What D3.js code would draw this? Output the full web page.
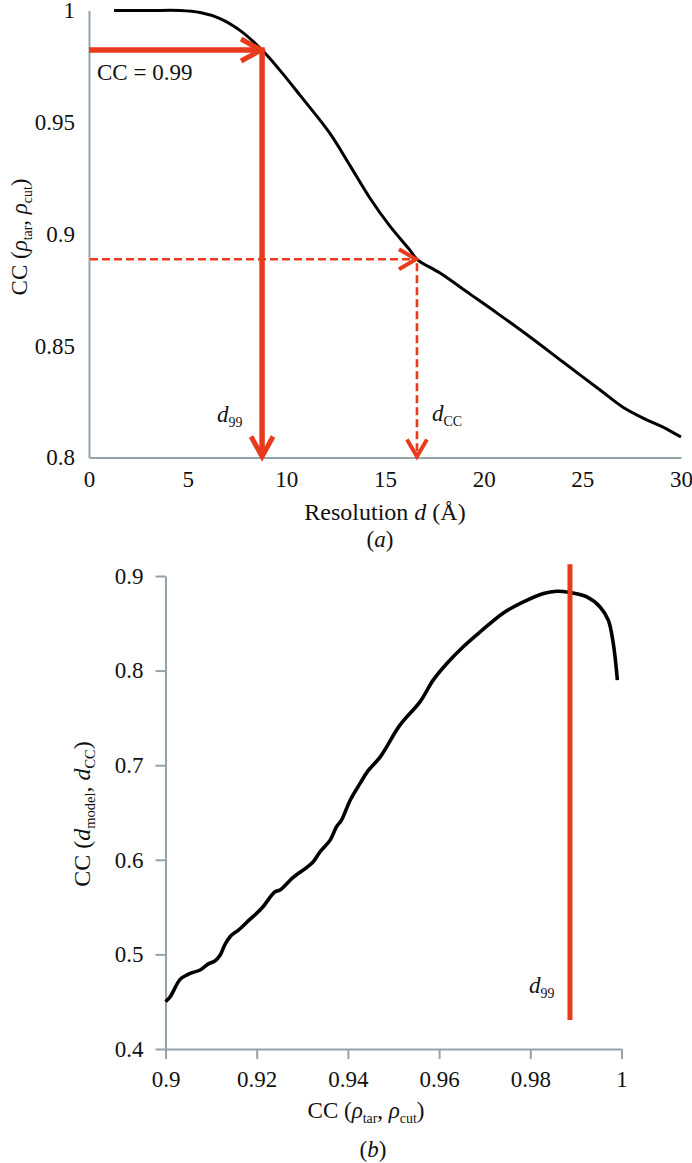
<!DOCTYPE html>
<html><head><meta charset="utf-8">
<script src="https://cdn.jsdelivr.net/npm/d3@7"></script>
<style>
body{margin:0;background:#fff}
svg, svg text, svg tspan{font-family:"Liberation Serif","Times New Roman","DejaVu Serif",serif !important;}
svg text{fill:#111}
</style>
</head><body>
<svg id="c" width="692" height="1163" font-family="Liberation Serif, Times New Roman, serif"></svg>
<script>
// ---- Panel (a) data ----
const topD  = [1.27, 3.09, 4.61, 5.63, 6.64, 7.65, 8.77, 9.68, 10.70, 12.21, 13.22, 14.24, 15.25, 16.27, 16.62, 17.79, 19.31, 20.68, 22.35, 24.02, 25.90, 27.06, 28.18, 29.09, 30.0];
const topCC = [1.000, 1.000, 1.000, 0.9991, 0.9964, 0.9911, 0.9823, 0.9732, 0.9620, 0.9450, 0.9307, 0.9160, 0.9035, 0.8927, 0.8887, 0.8825, 0.8731, 0.8646, 0.8539, 0.8427, 0.8302, 0.8225, 0.8172, 0.8136, 0.8092];
const topXTicks = [0, 5, 10, 15, 20, 25, 30];
const topYTicks = [0.8, 0.85, 0.9, 0.95, 1];
const d99 = 8.77, cc99 = 0.9823;
const dCCval = 16.62, ccCC = 0.8887;

// ---- Panel (b) data ----
const botX = [0.9, 0.9010, 0.9032, 0.9046, 0.9054, 0.9076, 0.9094, 0.9109, 0.9120, 0.9130, 0.9145, 0.9160, 0.9185, 0.9211, 0.9240, 0.9251, 0.9280, 0.9310, 0.9324, 0.9339, 0.9361, 0.9375, 0.9386, 0.9405, 0.9427, 0.9444, 0.9471, 0.9514, 0.9558, 0.9587, 0.9617, 0.9653, 0.9690, 0.9741, 0.9785, 0.9829, 0.9858, 0.9887, 0.9924, 0.9953, 0.9971, 0.9982, 0.9991];
const botY = [0.450, 0.455, 0.4736, 0.478, 0.480, 0.4835, 0.490, 0.4933, 0.4993, 0.510, 0.5204, 0.5257, 0.537, 0.5487, 0.5662, 0.568, 0.5814, 0.592, 0.598, 0.6085, 0.6208, 0.6349, 0.642, 0.663, 0.681, 0.694, 0.7088, 0.7423, 0.767, 0.7899, 0.8075, 0.8252, 0.8409, 0.861, 0.8726, 0.8815, 0.8839, 0.8825, 0.8779, 0.8673, 0.8533, 0.8286, 0.7899];
const botXTicks = [0.9, 0.92, 0.94, 0.96, 0.98, 1];
const botYTicks = [0.4, 0.5, 0.6, 0.7, 0.8, 0.9];
const botD99 = 0.9887;
const botD99Span = [0.4306, 0.9124];

const RED = "#ea3a1d", AX = "#94a3aa";
const FONT = "Liberation Serif, Times New Roman, DejaVu Serif, serif";
const svg = d3.select("#c");
svg.append("rect").attr("width",692).attr("height",1163).attr("fill","#fff");

function styleAxis(g){
  g.attr("font-family",FONT).attr("font-size",null);
  g.selectAll(".domain").attr("stroke",AX).attr("stroke-width",2);
  g.selectAll(".tick line").attr("stroke",AX).attr("stroke-width",2);
  g.selectAll(".tick text").attr("font-size",23).attr("fill","#111").attr("font-family",FONT);
}
function chevron(g, tx, ty, dir, len, half, w){
  let p;
  if(dir==="right") p=[[tx-len,ty-half],[tx,ty],[tx-len,ty+half]];
  else p=[[tx-half,ty-len],[tx,ty],[tx+half,ty-len]];
  g.append("path").attr("d",d3.line()(p)).attr("fill","none").attr("stroke",RED)
   .attr("stroke-width",w).attr("stroke-linejoin","miter").attr("stroke-linecap","butt");
}
function txt(g){ return g.append("text").attr("font-family",FONT).attr("fill","#111"); }

// ===== Panel (a) =====
const xT = d3.scaleLinear().domain([0,30]).range([89,681]);
const yT = d3.scaleLinear().domain([0.8,1]).range([457.5,10.5]);
const gA = svg.append("g");
gA.append("g").attr("transform","translate(89,0)")
  .call(d3.axisLeft(yT).tickValues(topYTicks).tickSize(0).tickSizeOuter(0).tickPadding(14).tickFormat(d=>String(d)))
  .call(styleAxis);
gA.append("g").attr("transform","translate(0,457.5)")
  .call(d3.axisBottom(xT).tickValues(topXTicks).tickSize(0).tickSizeOuter(0).tickPadding(13).tickFormat(d=>String(d)))
  .call(styleAxis);

// curve
const topPts = topD.map((d,i)=>[xT(d), yT(topCC[i])]);
gA.append("path").attr("d", d3.line().curve(d3.curveCatmullRom)(topPts))
  .attr("fill","none").attr("stroke","#000").attr("stroke-width",3);

// solid arrows
const ax0 = xT(0), ayBase = yT(0.8);
gA.append("line").attr("x1",ax0).attr("y1",yT(cc99)).attr("x2",xT(d99)-2).attr("y2",yT(cc99))
  .attr("stroke",RED).attr("stroke-width",5.5);
chevron(gA, xT(d99)-1, yT(cc99), "right", 20, 11, 5);
gA.append("line").attr("x1",xT(d99)).attr("y1",yT(cc99)-2.7).attr("x2",xT(d99)).attr("y2",ayBase-2)
  .attr("stroke",RED).attr("stroke-width",5.5);
chevron(gA, xT(d99), ayBase-1, "down", 20, 11, 5);

// dashed arrows
gA.append("line").attr("x1",ax0+1).attr("y1",yT(ccCC)).attr("x2",xT(dCCval)-2).attr("y2",yT(ccCC))
  .attr("stroke",RED).attr("stroke-width",2.6).attr("stroke-dasharray","8,4");
chevron(gA, xT(dCCval)-1, yT(ccCC), "right", 17, 10, 4);
gA.append("line").attr("x1",xT(dCCval)).attr("y1",yT(ccCC)+4).attr("x2",xT(dCCval)).attr("y2",ayBase-2)
  .attr("stroke",RED).attr("stroke-width",2.6).attr("stroke-dasharray","8,4");
chevron(gA, xT(dCCval), ayBase-1, "down", 17, 10, 4);

// annotations
txt(gA).attr("x",97).attr("y",80).attr("font-size",23).text("CC = 0.99");
function dLabel(g, x, y, sub){
  const t = txt(g).attr("x",x).attr("y",y).attr("font-size",23);
  t.append("tspan").attr("font-style","italic").text("d");
  t.append("tspan").attr("font-size",14).attr("dy",5).text(sub);
  return t;
}
dLabel(gA, 217, 422, "99");
dLabel(gA, 432, 421, "CC");

// axis titles (a)
const tA = txt(gA).attr("x",385).attr("y",520).attr("font-size",24).attr("text-anchor","middle");
tA.append("tspan").text("Resolution ");
tA.append("tspan").attr("font-style","italic").text("d");
tA.append("tspan").text(" (Å)");
const la = txt(gA).attr("x",380).attr("y",547).attr("font-size",23).attr("text-anchor","middle");
la.append("tspan").text("(");
la.append("tspan").attr("font-style","italic").text("a");
la.append("tspan").text(")");

function rhoTitle(t, size){
  t.append("tspan").text("CC (");
  t.append("tspan").attr("font-style","italic").text("ρ");
  t.append("tspan").attr("font-size",size*0.6).attr("dy",size*0.22).text("tar");
  t.append("tspan").attr("dy",-size*0.22).text(", ");
  t.append("tspan").attr("font-style","italic").text("ρ");
  t.append("tspan").attr("font-size",size*0.6).attr("dy",size*0.22).text("cut");
  t.append("tspan").attr("dy",-size*0.22).text(")");
}
const yTa = txt(gA).attr("transform","translate(27,237) rotate(-90)")
  .attr("font-size",23).attr("text-anchor","middle");
rhoTitle(yTa, 23);

// ===== Panel (b) =====
const xB = d3.scaleLinear().domain([0.9,1]).range([165.5,621.5]);
const yB = d3.scaleLinear().domain([0.4,0.9]).range([1049,576]);
const gB = svg.append("g");
gB.append("g").attr("transform","translate(165.5,0)")
  .call(d3.axisLeft(yB).tickValues(botYTicks).tickSize(10).tickSizeOuter(0).tickPadding(12).tickFormat(d=>String(d)))
  .call(styleAxis);
gB.append("g").attr("transform","translate(0,1049)")
  .call(d3.axisBottom(xB).tickValues(botXTicks).tickSize(10).tickSizeOuter(0).tickPadding(12).tickFormat(d=>String(d)))
  .call(styleAxis);

const botPts = botX.map((x,i)=>[xB(x), yB(botY[i])]);
gB.append("path").attr("d", d3.line().curve(d3.curveCatmullRom)(botPts))
  .attr("fill","none").attr("stroke","#000").attr("stroke-width",3.6).attr("stroke-linejoin","round");

gB.append("line").attr("x1",xB(botD99)).attr("x2",xB(botD99))
  .attr("y1",yB(botD99Span[1])).attr("y2",yB(botD99Span[0]))
  .attr("stroke",RED).attr("stroke-width",5);
dLabel(gB, 529, 993, "99");

const xTb = txt(gB).attr("x",366).attr("y",1118).attr("font-size",23).attr("text-anchor","middle");
rhoTitle(xTb, 23);
const lb = txt(gB).attr("x",373).attr("y",1157).attr("font-size",23).attr("text-anchor","middle");
lb.append("tspan").text("(");
lb.append("tspan").attr("font-style","italic").text("b");
lb.append("tspan").text(")");

const yTb = txt(gB).attr("transform","translate(90,814) rotate(-90)")
  .attr("font-size",24).attr("text-anchor","middle");
yTb.append("tspan").text("CC (");
yTb.append("tspan").attr("font-style","italic").text("d");
yTb.append("tspan").attr("font-size",14.5).attr("dy",5).text("model");
yTb.append("tspan").attr("dy",-5).text(", ");
yTb.append("tspan").attr("font-style","italic").text("d");
yTb.append("tspan").attr("font-size",14.5).attr("dy",5).text("CC");
yTb.append("tspan").attr("dy",-5).text(")");
</script>
</body></html>
